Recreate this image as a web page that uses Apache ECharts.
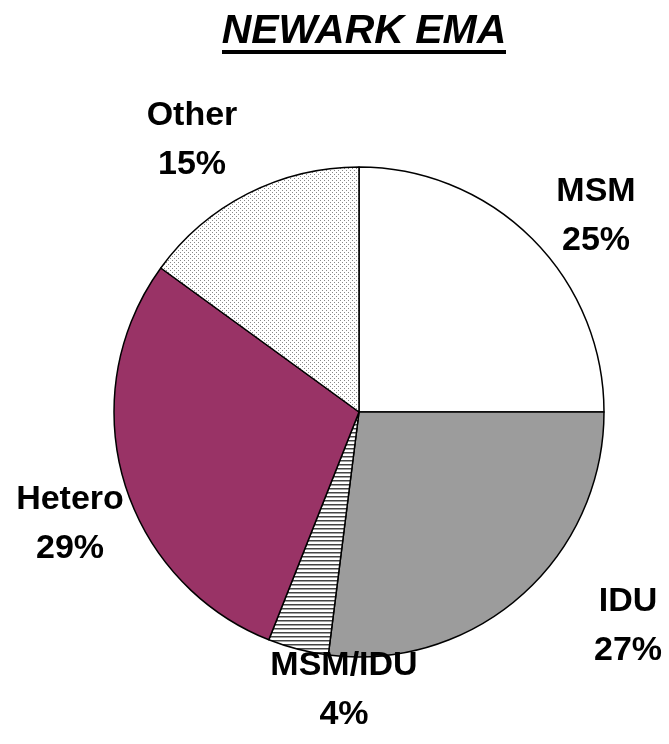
<!DOCTYPE html>
<html>
<head>
<meta charset="utf-8">
<script src="https://cdn.jsdelivr.net/npm/echarts@6/dist/echarts.min.js"></script>
<style>
  html, body { margin: 0; padding: 0; background: #fff; }
  #main { width: 669px; height: 744px; }
</style>
</head>
<body>
<div id="main"></div>
<script>
// data
var categories = ['MSM', 'IDU', 'MSM/IDU', 'Hetero', 'Other'];
var shares = [25, 27, 4, 29, 15];

// label spots (px)
var labelPos = [[596, 216], [628, 626], [344, 690], [70, 524], [192, 140]];

function makePattern(size, draw) {
    var c = document.createElement('canvas');
    c.width = size; c.height = size;
    var ctx = c.getContext('2d');
    ctx.fillStyle = '#fff';
    ctx.fillRect(0, 0, size, size);
    draw(ctx);
    return { image: c, repeat: 'repeat' };
}
var stripes = makePattern(4, function (ctx) {
    ctx.fillStyle = '#444';
    ctx.fillRect(0, 0, 4, 1.5);
});
var dots = makePattern(4, function (ctx) {
    ctx.fillStyle = '#888';
    ctx.fillRect(0, 0, 1, 1);
    ctx.fillRect(2, 2, 1, 1);
});
var fills = ['#ffffff', '#9c9c9c', stripes, '#993366', dots];

var myChart = echarts.init(document.getElementById('main'));

var option = {
    backgroundColor: '#fff',
    animation: false,
    graphic: [{
        type: 'text',
        x: 364,
        y: 32,
        style: {
            text: 'NEWARK EMA',
            fontFamily: 'Liberation Sans',
            fontWeight: 'bold',
            fontStyle: 'italic',
            fontSize: 41,
            fill: '#000',
            align: 'center',
            verticalAlign: 'middle'
        }
    }, {
        type: 'rect',
        shape: { x: 222, y: 50, width: 284, height: 4 },
        style: { fill: '#000' }
    }],
    series: [{
        type: 'pie',
        center: [359, 412],
        radius: 245,
        startAngle: 90,
        clockwise: true,
        avoidLabelOverlap: false,
        itemStyle: { borderColor: '#000', borderWidth: 1.5 },
        emphasis: { disabled: true },
        label: {
            show: true,
            position: 'outside',
            formatter: '{b}\n{c}%',
            fontFamily: 'Liberation Sans',
            fontWeight: 'bold',
            fontSize: 34,
            lineHeight: 49,
            color: '#000',
            align: 'center'
        },
        labelLine: { show: false },
        labelLayout: function (p) {
            var pos = labelPos[p.dataIndex];
            return { x: pos[0], y: pos[1], align: 'center', verticalAlign: 'middle' };
        },
        data: categories.map(function (name, i) {
            return { name: name, value: shares[i], itemStyle: { color: fills[i] } };
        })
    }]
};

myChart.setOption(option);
</script>
</body>
</html>
